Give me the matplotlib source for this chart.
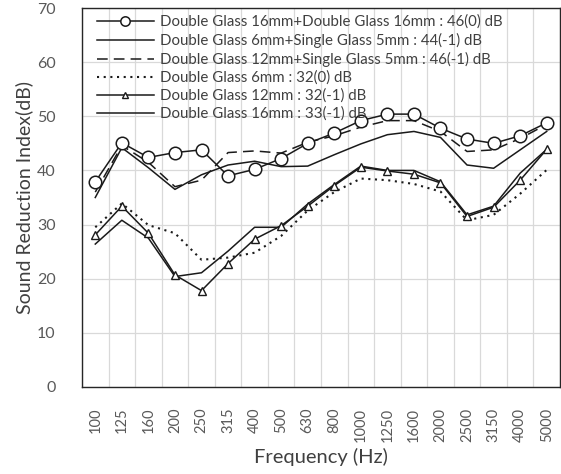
import matplotlib
matplotlib.use("Agg")
import matplotlib.pyplot as plt
import numpy as np

plt.rcParams['font.family'] = ['Lato', 'DejaVu Sans']

freqs = ["100", "125", "160", "200", "250", "315", "400", "500", "630", "800",
         "1000", "1250", "1600", "2000", "2500", "3150", "4000", "5000"]

dg16_dg16 = [37.9, 45.1, 42.4, 43.3, 43.8, 39.0, 40.2, 42.2, 45.0, 46.9,
             49.2, 50.4, 50.4, 47.8, 45.8, 45.0, 46.4, 48.8]
dg6_sg5 = [35.0, 44.2, 40.5, 36.5, 39.2, 41.0, 41.7, 40.7, 40.8, 42.9,
           44.9, 46.6, 47.2, 46.1, 41.0, 40.4, 43.8, 47.2]
dg12_sg5 = [36.0, 44.6, 41.5, 37.0, 38.2, 43.3, 43.6, 43.2, 45.2, 46.4,
            48.0, 49.2, 49.2, 47.2, 43.5, 43.8, 45.9, 48.5]
dg6 = [29.5, 33.9, 29.9, 28.4, 23.5, 23.9, 24.8, 27.9, 32.6, 36.0,
       38.5, 38.2, 37.5, 36.1, 30.8, 31.8, 35.7, 40.1]
dg12 = [28.1, 33.4, 28.4, 20.7, 17.8, 22.8, 27.3, 29.8, 33.4, 37.2,
        40.6, 39.9, 39.3, 37.7, 31.5, 33.2, 38.2, 43.9]
dg16 = [26.4, 30.8, 27.5, 20.4, 21.1, 25.1, 29.5, 29.5, 33.8, 37.4,
        40.8, 40.0, 40.0, 37.9, 31.8, 33.4, 39.5, 43.9]

labels = [
    "Double Glass 16mm+Double Glass 16mm : 46(0) dB",
    "Double Glass 6mm+Single Glass 5mm : 44(-1) dB",
    "Double Glass 12mm+Single Glass 5mm : 46(-1) dB",
    "Double Glass 6mm : 32(0) dB",
    "Double Glass 12mm : 32(-1) dB",
    "Double Glass 16mm : 33(-1) dB",
]

fig = plt.figure(figsize=(5.61, 4.74), dpi=100)
ax = fig.add_axes([82/561, 87/474, (560-82)/561, (387-8)/474])

x = np.arange(len(freqs))
lc = '#1a1a1a'
lw = 1.1
ax.plot(x, dg16_dg16, color=lc, lw=lw, marker='o', ms=9, mfc='white', mec=lc, mew=1.1, label=labels[0], zorder=5)
ax.plot(x, dg6_sg5, color=lc, lw=lw, label=labels[1], zorder=4)
ax.plot(x, dg12_sg5, color=lc, lw=lw, ls=(0, (7, 4)), label=labels[2], zorder=4)
ax.plot(x, dg6, color=lc, lw=1.5, ls=(0, (1, 2.2)), label=labels[3], zorder=4)
ax.plot(x, dg12, color=lc, lw=lw, marker='^', ms=6, mfc='white', mec=lc, mew=1.0, label=labels[4], zorder=5)
ax.plot(x, dg16, color=lc, lw=lw, label=labels[5], zorder=4)

ax.set_xlim(-0.5, len(freqs) - 0.5)
ax.set_ylim(0, 70)
ax.set_yticks(np.arange(0, 71, 10))
ax.set_xticks(x)
ax.set_xticklabels(freqs, rotation=90, fontsize=10.5, color='#595959')
ax.set_xticks(np.arange(-0.5, len(freqs), 1), minor=True)
ax.tick_params(axis='y', labelsize=11.5, colors='#595959', length=0, pad=19)
ax.tick_params(axis='x', which='both', length=0, pad=15)
ax.grid(True, axis='y', which='major', color='#d9d9d9', lw=0.9)
ax.grid(True, axis='x', which='minor', color='#d9d9d9', lw=0.9)
ax.set_axisbelow(True)
for s in ax.spines.values():
    s.set_color('#262626')
    s.set_linewidth(1.0)

ax.set_xlabel("Frequency (Hz)", fontsize=14.5, color='#404040', labelpad=4)
ax.set_ylabel("Sound Reduction Index(dB)", fontsize=14, color='#404040', labelpad=3)

leg = ax.legend(loc='upper left', bbox_to_anchor=(0.023, 0.992), frameon=False,
                fontsize=10.8, handlelength=3.8, handletextpad=0.45,
                labelspacing=0.25, borderaxespad=0.0, borderpad=0.25,
                markerscale=0.75)
for t in leg.get_texts():
    t.set_color('#404040')

fig.savefig("out.png", dpi=100)
